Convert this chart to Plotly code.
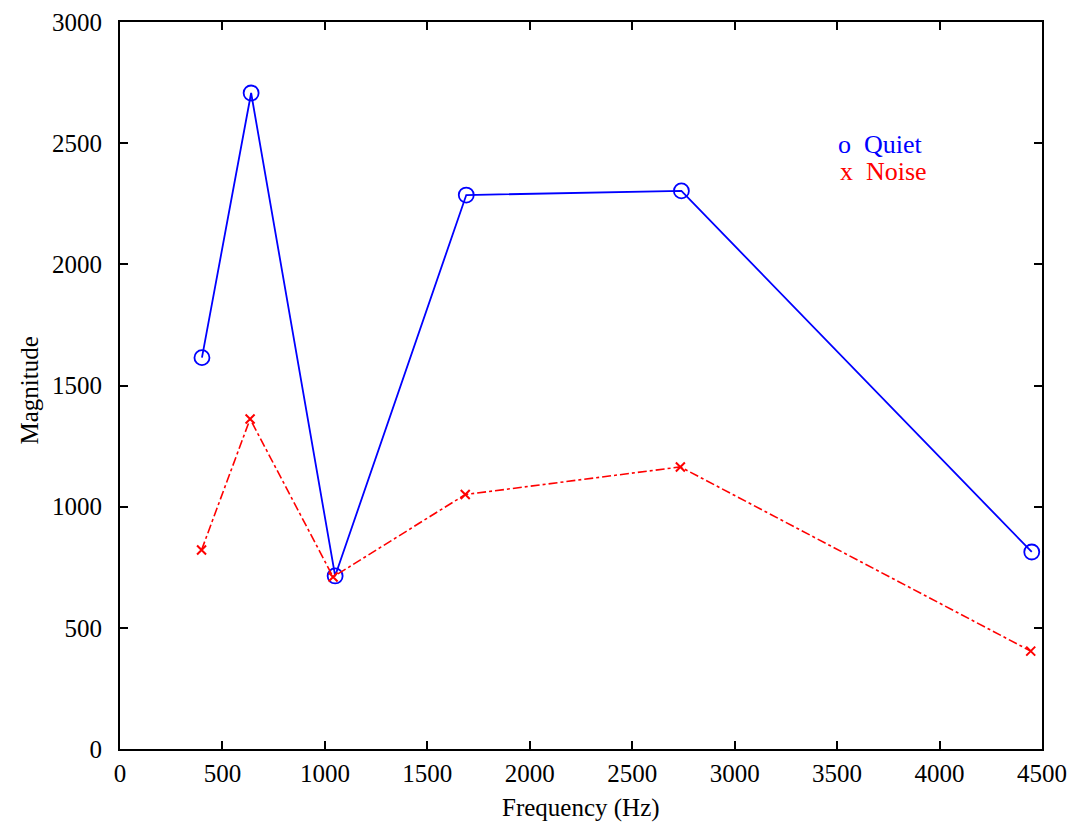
import plotly.graph_objects as go

quiet_freq = [400, 640, 1050, 1690, 2740, 4450]
quiet_mag = [1615, 2707, 714, 2286, 2303, 813]
noise_freq = [398, 635, 1040, 1685, 2735, 4445]
noise_mag = [821, 1362, 710, 1050, 1164, 404]
x_ticks = [0, 500, 1000, 1500, 2000, 2500, 3000, 3500, 4000, 4500]
y_ticks = [0, 500, 1000, 1500, 2000, 2500, 3000]

font = "Liberation Serif, Times New Roman, serif"
fs = 25

fig = go.Figure()
fig.add_trace(go.Scatter(
    x=quiet_freq, y=quiet_mag, mode="lines+markers", name="Quiet",
    line=dict(color="#0000ff", width=1.8),
    marker=dict(symbol="circle-open", size=15, color="#0000ff", line=dict(width=1.8)),
))
fig.add_trace(go.Scatter(
    x=noise_freq, y=noise_mag, mode="lines+markers", name="Noise",
    line=dict(color="#ff0000", width=1.6, dash="dashdot"),
    marker=dict(symbol="x-thin-open", size=9, color="#ff0000", line=dict(width=2, color="#ff0000")),
))

axis_common = dict(
    showgrid=False, zeroline=False, showline=True, linecolor="black", linewidth=2,
    mirror="ticks", ticks="inside", ticklen=8, tickwidth=1.5, tickcolor="black",
    tickfont=dict(family=font, size=fs, color="black"), automargin=False,
)
fig.update_xaxes(range=[0, 4500], tickvals=x_ticks, ticklabelstandoff=1, **axis_common)
fig.update_yaxes(range=[0, 3000], tickvals=y_ticks, ticklabelstandoff=11, **axis_common)

# axis titles
fig.add_annotation(x=0.5, y=0, xref="paper", yref="paper", yshift=-59, xanchor="center", yanchor="middle",
                   text="Frequency (Hz)", showarrow=False, font=dict(family=font, size=fs, color="black"))
fig.add_annotation(x=0, y=0.493, xref="paper", yref="paper", xshift=-90, xanchor="center", yanchor="middle",
                   textangle=-90, text="Magnitude", showarrow=False, font=dict(family=font, size=fs, color="black"))

# legend text
fig.add_annotation(x=0.777, y=0.831, xref="paper", yref="paper", xanchor="left", yanchor="middle",
                   text="o  Quiet", showarrow=False, font=dict(family=font, size=26, color="#0000ff"))
fig.add_annotation(x=0.779, y=0.794, xref="paper", yref="paper", xanchor="left", yanchor="middle",
                   text="x  Noise", showarrow=False, font=dict(family=font, size=26, color="#ff0000"))

fig.update_layout(
    width=1068, height=826, showlegend=False,
    plot_bgcolor="white", paper_bgcolor="white",
    margin=dict(l=120, r=26, t=22, b=77),
)
fig.write_html("out.html", config={"displayModeBar": False},
               post_script="document.body.style.margin='0px';document.body.style.overflow='hidden';")
